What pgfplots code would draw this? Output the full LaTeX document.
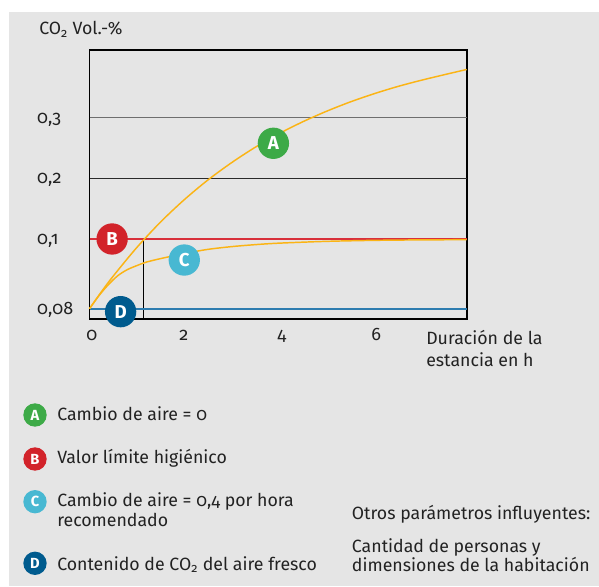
\documentclass[border=0pt]{standalone}
\usepackage{fontspec}
\setmainfont{Fira Sans}[Numbers=OldStyle]
\usepackage{pgfplots}
\pgfplotsset{compat=1.18}
\definecolor{bggray}{HTML}{E5E5E5}
\definecolor{textgray}{HTML}{222222}
\definecolor{curve}{HTML}{FBB415}
\definecolor{redline}{HTML}{D8303B}
\definecolor{blueline}{HTML}{2D7CAF}
\definecolor{gridA}{HTML}{6E6E6E}
\definecolor{gridB}{HTML}{2A2A2A}
\definecolor{badgeA}{HTML}{3DAA47}
\definecolor{badgeB}{HTML}{D2232A}
\definecolor{badgeC}{HTML}{48B8D2}
\definecolor{badgeD}{HTML}{005B8E}

\tikzset{
  badge/.style={circle, fill=#1, text=white, inner sep=0pt, minimum size=23.5pt,
    font=\bfseries\fontsize{14}{14}\selectfont},
  lbadge/.style={circle, fill=#1, text=white, inner sep=0pt, minimum size=17.5pt,
    font=\bfseries\fontsize{11}{11}\selectfont},
  px/.style={x=0.75pt, y=-0.75pt, xshift=-67.125pt, yshift=239.25pt},
}

\begin{document}
\begin{tikzpicture}[font=\fontsize{13.3}{16}\selectfont, text=textgray]
\begin{scope}[px]
  \fill[white] (0,0) rectangle (599,586);
  \fill[bggray] (9,12) rectangle (599,586);
\end{scope}

\begin{axis}[
  scale only axis, width=282.9pt, height=201.75pt,
  xmin=0, xmax=8, ymin=0.07704, ymax=0.4116,
  % broken y scale: 0,08..0,1 is stretched
  y coord trafo/.code={\pgfmathparse{(#1<0.1)*((#1)-0.08)*3485+(#1>=0.1)*(69.7+((#1)-0.1)*606.5)}},
  clip=false,
  axis line style={black, line width=1.2pt},
  major tick length=0pt,
  xtick={0.05,2,4.08,6.08}, xticklabels={0,2,4,6},
  ytick={0.08,0.1,0.2,0.3}, yticklabels={{0,08},{0,1},{0,2},{0,3}},
  xticklabel style={anchor=base, inner sep=0pt, yshift=-15.75pt},
  yticklabel style={anchor=base west, inner sep=0pt, xshift=-39.4pt, yshift=-4.1pt},
  ticklabel style={text=textgray, font=\fontsize{13.5}{13.5}\selectfont},
]
\addplot[gridA, line width=1.1pt] coordinates {(0,0.3)(8,0.3)};
\addplot[gridB, line width=1.1pt] coordinates {(0,0.2)(8,0.2)};
\addplot[black, line width=1pt] coordinates {(1.15,0.07704)(1.15,0.1)(8,0.1)};
\addplot[redline, line width=1.5pt] coordinates {(0,0.1)(8,0.1)};
\addplot[blueline, line width=1.5pt] coordinates {(0,0.08)(8,0.08)};
% A: no air change
\addplot[curve, line width=1.1pt, smooth] coordinates {
  (0,0.08)(0.25,0.0848)(0.5,0.0893)(1,0.0975)(1.5,0.1274)(2,0.1641)
  (2.5,0.1966)(3,0.2251)(3.5,0.2505)(4,0.2728)(4.5,0.2924)(5,0.3097)
  (5.5,0.3251)(6,0.3386)(6.5,0.3506)(7,0.3610)(7.5,0.3704)(8,0.3795)
};
% C: 0,4 air changes per hour
\addplot[curve, line width=1.1pt, smooth] coordinates {
  (0,0.08)(0.2,0.08373)(0.4,0.08689)(0.6,0.08947)(0.8,0.09119)(1,0.09234)
  (1.2,0.09334)(1.5,0.09435)(2,0.09578)(2.5,0.09700)(3,0.09779)(3.5,0.09836)
  (4,0.09879)(5,0.09931)(6,0.09960)(7,0.09974)(8,0.09980)
};
\node[badge=badgeA] at (axis cs:3.9,0.2578) {A};
\node[badge=badgeB] at (axis cs:0.48,0.1) {B};
\node[badge=badgeC] at (axis cs:2.01,0.09397) {C};
\node[badge=badgeD] at (axis cs:0.66,0.07914) {D};
\end{axis}

\begin{scope}[px]
  \node[anchor=base west, inner sep=0pt] at (39,35) {CO\textsubscript{2} Vol.-\%};
  \node[anchor=base west, inner sep=0pt] at (426,344) {Duración de la};
  \node[anchor=base west, inner sep=0pt] at (426,366.7) {estancia en h};

  \node[lbadge=badgeA] at (35,415) {A};
  \node[lbadge=badgeB] at (35,459) {B};
  \node[lbadge=badgeC] at (35,501.7) {C};
  \node[lbadge=badgeD] at (35,563.3) {D};
  \node[anchor=base west, inner sep=0pt] at (57,420.7) {Cambio de aire = 0};
  \node[anchor=base west, inner sep=0pt] at (57,463.3) {Valor límite higiénico};
  \node[anchor=base west, inner sep=0pt] at (57,506.7) {Cambio de aire = 0,4 por hora};
  \node[anchor=base west, inner sep=0pt] at (57,526.7) {recomendado};
  \node[anchor=base west, inner sep=0pt] at (57,570) {Contenido de CO\textsubscript{2} del aire fresco};

  \node[anchor=base west, inner sep=0pt] at (351.7,519.5) {Otros parámetros influyentes:};
  \node[anchor=base west, inner sep=0pt] at (351.7,552) {Cantidad de personas y};
  \node[anchor=base west, inner sep=0pt] at (351.7,571.5) {dimensiones de la habitación};

  \pgfresetboundingbox
  \path[use as bounding box] (0,0) rectangle (599,586);
\end{scope}
\end{tikzpicture}
\end{document}
